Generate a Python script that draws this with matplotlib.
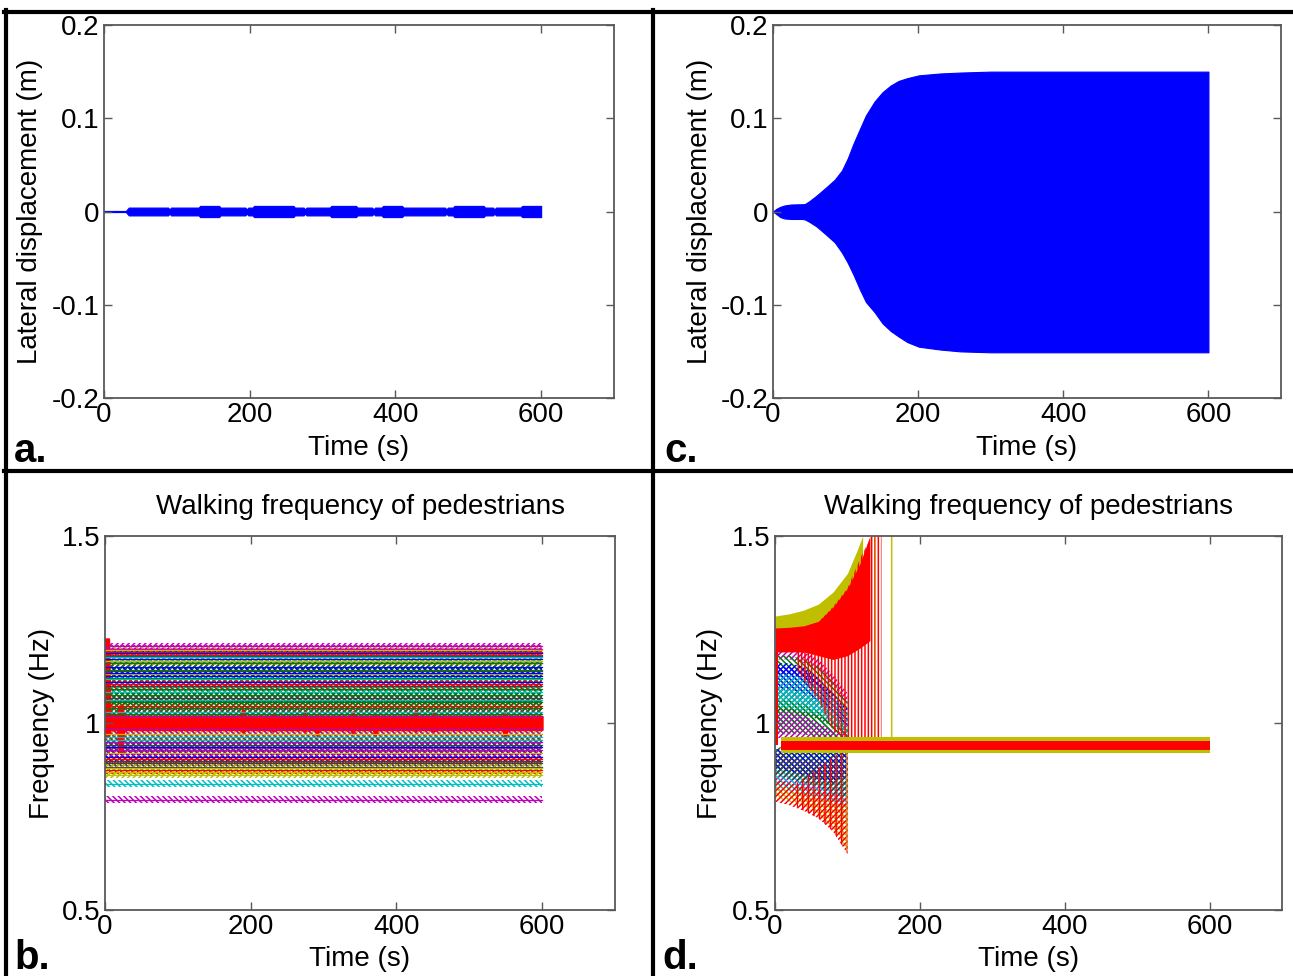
import matplotlib
matplotlib.use("Agg")
import matplotlib.pyplot as plt
from matplotlib.lines import Line2D

plt.rcParams["font.family"] = ["Liberation Sans", "DejaVu Sans"]
plt.rcParams["hatch.linewidth"] = 1.1

# MATLAB default line colour order: b, g, r, c, m, y, k
ml_colors = ["#0000ff", "#008000", "#ff0000", "#00bfbf", "#bf00bf", "#bfbf00", "#404040"]

# -------------------------------
# panel a: lateral displacement envelope (stable bridge)
# -------------------------------
a_time = [0, 30, 34, 88, 90, 92, 130, 132, 158, 160, 194, 196, 198, 204, 206, 260, 262,
          274, 276, 278, 310, 312, 346, 348, 368, 370, 372, 381, 383, 409, 411, 468, 470,
          472, 479, 481, 521, 523, 534, 536, 538, 572, 574, 600]
a_amp = [0.0006, 0.0006, 0.0042, 0.0042, 0.0022, 0.0042, 0.0042, 0.006, 0.006, 0.0042,
         0.0042, 0.0022, 0.0042, 0.0042, 0.006, 0.006, 0.0042, 0.0042, 0.0022, 0.0042,
         0.0042, 0.006, 0.006, 0.0042, 0.0042, 0.0022, 0.0042, 0.0042, 0.006, 0.006,
         0.0042, 0.0042, 0.0022, 0.0042, 0.0042, 0.006, 0.006, 0.0042, 0.0042, 0.0022,
         0.0042, 0.0042, 0.006, 0.006]

# -------------------------------
# panel c: lateral displacement envelope (lock-in)
# -------------------------------
c_time = [0, 5, 10, 16, 25, 40, 44, 50, 60, 72, 85, 95, 103, 111, 120, 128, 140, 151,
          162, 173, 185, 201, 230, 258, 300, 600]
c_upper = [0, 0.003, 0.005, 0.0065, 0.0075, 0.0078, 0.008, 0.011, 0.017, 0.025, 0.034,
           0.044, 0.057, 0.073, 0.089, 0.103, 0.118, 0.128, 0.135, 0.140, 0.143, 0.146,
           0.148, 0.149, 0.150, 0.150]
c_lower = [0, -0.003, -0.006, -0.0075, -0.008, -0.008, -0.0085, -0.011, -0.016, -0.024,
           -0.033, -0.044, -0.055, -0.068, -0.084, -0.097, -0.108, -0.120, -0.128,
           -0.134, -0.140, -0.145, -0.148, -0.150, -0.151, -0.151]

# -------------------------------
# panel b: pedestrian walking frequencies (base value and swing)
# -------------------------------
ped_freq = [1.150, 1.092, 1.190, 0.838, 1.205, 0.868, 0.893,
            1.170, 1.040, 0.874, 0.955, 0.795, 1.130, 0.899,
            1.110, 1.120, 1.182, 1.062, 1.160, 0.920, 1.178,
            0.935, 1.160, 0.980, 1.030, 1.198, 0.862, 1.140,
            1.125, 1.075, 1.046, 0.962, 0.948, 1.195, 1.100,
            0.910, 1.142, 1.188, 1.082, 1.015, 0.970, 0.882,
            1.186, 1.055, 0.903, 1.118, 0.928, 1.165, 1.068,
            1.135, 1.024, 1.105, 1.176, 0.985, 0.880, 0.942]
ped_amp = [0.012, 0.014, 0.010, 0.009, 0.010, 0.010, 0.012,
           0.011, 0.018, 0.011, 0.020, 0.010, 0.012, 0.013,
           0.013, 0.013, 0.010, 0.016, 0.011, 0.016, 0.010,
           0.018, 0.011, 0.022, 0.020, 0.010, 0.010, 0.012,
           0.013, 0.015, 0.018, 0.020, 0.020, 0.010, 0.014,
           0.015, 0.012, 0.010, 0.015, 0.022, 0.022, 0.012,
           0.010, 0.017, 0.014, 0.013, 0.017, 0.011, 0.016,
           0.012, 0.020, 0.014, 0.010, 0.022, 0.012, 0.019]
b_span = [0, 600]

# mean frequency (thick red) envelope
b_mean_t = [0, 5, 7, 17, 20, 23, 26, 30, 185, 189, 193, 228, 231, 234, 271, 274, 277,
            288, 291, 294, 337, 340, 343, 368, 371, 374, 423, 426, 429, 448, 451, 454,
            545, 549, 553, 600]
b_mean_hi = [1.225, 1.225, 1.02, 1.02, 1.046, 1.046, 1.02, 1.018, 1.018, 1.037, 1.018,
             1.018, 1.025, 1.018, 1.018, 1.028, 1.018, 1.018, 1.02, 1.018, 1.018, 1.03,
             1.018, 1.018, 1.02, 1.018, 1.018, 1.032, 1.018, 1.018, 1.028, 1.018, 1.018,
             1.025, 1.018, 1.018]
b_mean_lo = [0.965, 0.965, 0.982, 0.982, 0.921, 0.921, 0.982, 0.983, 0.983, 0.975,
             0.983, 0.983, 0.978, 0.983, 0.983, 0.978, 0.983, 0.983, 0.966, 0.983,
             0.983, 0.972, 0.983, 0.983, 0.966, 0.983, 0.983, 0.978, 0.983, 0.983,
             0.978, 0.983, 0.983, 0.964, 0.983, 0.983]

# -------------------------------
# panel d: walking frequencies with lock-in
# -------------------------------
d_yel_t = [0, 20, 40, 60, 80, 100, 113, 121]
d_yel_hi = [1.286, 1.292, 1.302, 1.318, 1.35, 1.40, 1.46, 1.50]
d_yel_lo = [1.245, 1.245, 1.245, 1.24, 1.25, 1.28, 1.32, 1.36]

d_red_t = [0, 20, 40, 60, 80, 100, 117, 131]
d_red_hi = [1.254, 1.256, 1.26, 1.272, 1.31, 1.36, 1.425, 1.5]
d_red_lo = [1.19, 1.19, 1.19, 1.18, 1.17, 1.18, 1.2, 1.22]

# red swing region growing over the others (upper and lower)
d_redw_t = [30, 60, 80, 100, 120, 147]
d_redw_lo = [1.14, 1.06, 0.98, 0.955, 0.955, 0.955]
d_redw_hi = [1.2, 1.27, 1.31, 1.36, 1.45, 1.55]
d_redl_t = [30, 60, 80, 100]
d_redl_lo = [0.775, 0.745, 0.71, 0.65]
d_redl_hi = [0.84, 0.88, 0.91, 0.93]

d_mid_t = [0, 20, 40, 60, 80, 100]
d_mid_color = [4, 1, 0, 3, 6, 1, 4, 0, 3]
d_mid_lo = [[1.17, 1.17, 1.16, 1.14, 1.10, 1.05],
            [1.12, 1.12, 1.11, 1.09, 1.06, 1.02],
            [1.07, 1.07, 1.06, 1.04, 1.01, 0.97],
            [1.00, 1.00, 0.99, 0.98, 0.97, 0.96],
            [1.03, 1.03, 1.02, 1.01, 0.99, 0.97],
            [0.97, 0.97, 0.97, 0.96, 0.96, 0.96],
            [0.96, 0.96, 0.96, 0.96, 0.96, 0.96],
            [1.09, 1.09, 1.08, 1.06, 1.03, 0.99],
            [1.04, 1.04, 1.03, 1.02, 1.00, 0.97]]
d_mid_hi = [[1.20, 1.20, 1.19, 1.17, 1.13, 1.08],
            [1.18, 1.18, 1.17, 1.15, 1.11, 1.06],
            [1.16, 1.16, 1.15, 1.12, 1.08, 1.04],
            [1.10, 1.10, 1.09, 1.07, 1.04, 1.00],
            [1.12, 1.12, 1.11, 1.09, 1.06, 1.02],
            [1.06, 1.06, 1.05, 1.03, 1.00, 0.98],
            [1.03, 1.03, 1.02, 1.00, 0.98, 0.97],
            [1.15, 1.15, 1.14, 1.11, 1.07, 1.02],
            [1.13, 1.13, 1.12, 1.10, 1.07, 1.03]]

d_low_t = [0, 20, 40, 60, 80, 100]
d_low_color = [4, 3, 1, 0, 6, 5, 2]
d_low_lo = [[0.84, 0.83, 0.82, 0.81, 0.79, 0.77],
            [0.82, 0.81, 0.80, 0.79, 0.77, 0.74],
            [0.87, 0.86, 0.85, 0.84, 0.83, 0.82],
            [0.88, 0.87, 0.86, 0.85, 0.84, 0.86],
            [0.86, 0.85, 0.84, 0.83, 0.81, 0.80],
            [0.80, 0.79, 0.78, 0.755, 0.72, 0.66],
            [0.79, 0.78, 0.765, 0.745, 0.71, 0.65]]
d_low_hi = [[0.93, 0.93, 0.93, 0.93, 0.93, 0.93],
            [0.90, 0.89, 0.88, 0.88, 0.87, 0.86],
            [0.935, 0.935, 0.935, 0.935, 0.935, 0.935],
            [0.93, 0.93, 0.93, 0.93, 0.93, 0.93],
            [0.92, 0.91, 0.90, 0.90, 0.89, 0.88],
            [0.83, 0.82, 0.81, 0.80, 0.79, 0.78],
            [0.85, 0.84, 0.83, 0.82, 0.81, 0.80]]

d_yelstroke_t = [138, 178]
d_yellow_dip_t = [98, 108]
d_stroke_lo = 0.955
d_stroke_hi = 1.55
d_dip_lo = 0.66

d_lock_t = [8, 600]
d_lock_yel = [0.919, 0.962]
d_lock_red = [0.927, 0.953]
d_mean_start_t = [0, 4]
d_mean_start = [0.94, 1.19]

# -------------------------------
# figure and layout
# -------------------------------
W, H = 1293, 976
fig = plt.figure(figsize=(W / 100, H / 100), dpi=100)


def px_axes(x0, y_top, x1, y_bot):
    return fig.add_axes([x0 / W, 1 - y_bot / H, (x1 - x0) / W, (y_bot - y_top) / H])


ax_a = px_axes(104, 25, 614, 398)
ax_c = px_axes(773, 25, 1281, 398)
ax_b = px_axes(105, 536, 615, 910)
ax_d = px_axes(775, 536, 1282, 910)

FS = 20
spine_col = "0.35"

for ax in (ax_a, ax_c, ax_b, ax_d):
    ax.set_xlim(0, 700)
    ax.set_xticks([0, 200, 400, 600])
    ax.tick_params(direction="in", length=6, width=1, color=spine_col,
                   top=True, right=True, labelsize=FS, pad=3)
    for s in ax.spines.values():
        s.set_color(spine_col)
        s.set_linewidth(1.3)
    ax.set_xlabel("Time (s)", fontsize=FS)

for ax in (ax_a, ax_c):
    ax.set_ylim(-0.2, 0.2)
    ax.set_yticks([-0.2, -0.1, 0, 0.1, 0.2])
    ax.set_yticklabels(["-0.2", "-0.1", "0", "0.1", "0.2"])
    ax.set_ylabel("Lateral displacement (m)", fontsize=FS)
    ax.xaxis.set_label_coords(0.5, -0.1)

for ax in (ax_b, ax_d):
    ax.set_ylim(0.5, 1.5)
    ax.set_yticks([0.5, 1, 1.5])
    ax.set_yticklabels(["0.5", "1", "1.5"])
    ax.set_ylabel("Frequency (Hz)", fontsize=FS)
    ax.set_title("Walking frequency of pedestrians", fontsize=FS, pad=16)
    ax.xaxis.set_label_coords(0.5, -0.095)

ax_a.yaxis.set_label_coords(-0.12, 0.5)
ax_c.yaxis.set_label_coords(-0.118, 0.5)
ax_b.yaxis.set_label_coords(-0.098, 0.5)
ax_d.yaxis.set_label_coords(-0.103, 0.5)

# panel a
a_neg = [-v for v in a_amp]
ax_a.fill_between(a_time, a_neg, a_amp, color="#0000ff", lw=0.8)

# panel c
ax_c.fill_between(c_time, c_lower, c_upper, color="#0000ff", lw=0.8)

# panel b
for i, (f, amp) in enumerate(zip(ped_freq, ped_amp)):
    col = ml_colors[i % 7]
    hatch = "//////" if i % 2 == 0 else "\\\\\\\\\\\\"
    ax_b.fill_between(b_span, [f - amp] * 2, [f + amp] * 2, facecolor="none",
                      edgecolor=col, hatch=hatch, lw=0)
    ax_b.plot(b_span, [f, f], color=col, lw=0.9)
ax_b.fill_between(b_mean_t, b_mean_lo, b_mean_hi, color="#ff0000", lw=1.5)

# panel d
for i, (ci, lo, hi) in enumerate(zip(d_low_color, d_low_lo, d_low_hi)):
    ax_d.fill_between(d_low_t, lo, hi, facecolor="none", edgecolor=ml_colors[ci],
                      hatch="//////" if i % 2 == 0 else "\\\\\\\\\\\\", lw=0)
ax_d.fill_between(d_redl_t, d_redl_lo, d_redl_hi, facecolor="none",
                  edgecolor="#ff0000", hatch="|||", lw=0)
ax_d.fill_between(d_yellow_dip_t, [d_dip_lo] * 2, [d_stroke_lo] * 2, facecolor="none",
                  edgecolor=ml_colors[5], hatch="||", lw=0)
for i, (ci, lo, hi) in enumerate(zip(d_mid_color, d_mid_lo, d_mid_hi)):
    ax_d.fill_between(d_mid_t, lo, hi, facecolor="none", edgecolor=ml_colors[ci],
                      hatch="//////" if i % 2 == 0 else "\\\\\\\\\\\\", lw=0)
ax_d.fill_between(d_yel_t, d_yel_lo, d_yel_hi, color=ml_colors[5], lw=0)
ax_d.fill_between(d_redw_t, d_redw_lo, d_redw_hi, facecolor="none",
                  edgecolor="#ff0000", hatch="|||||", lw=0)
ax_d.fill_between(d_red_t, d_red_lo, d_red_hi, color="#ff0000", lw=0)
ax_d.fill_between(d_yelstroke_t, [d_stroke_lo] * 2, [d_stroke_hi] * 2, facecolor="none",
                  edgecolor=ml_colors[5], hatch="|", lw=0)
ax_d.fill_between(d_lock_t, [d_lock_yel[0]] * 2, [d_lock_yel[1]] * 2, color=ml_colors[5], lw=0)
ax_d.fill_between(d_lock_t, [d_lock_red[0]] * 2, [d_lock_red[1]] * 2, color="#ff0000", lw=0)
ax_d.fill_between(d_mean_start_t, [d_mean_start[0]] * 2, [d_mean_start[1]] * 2,
                  color="#ff0000", lw=0)

# panel letters
for txt, x, y in [("a.", 14, 462), ("c.", 664, 462), ("b.", 14, 969), ("d.", 662, 969)]:
    fig.text(x / W, 1 - y / H, txt, fontsize=29, fontweight="bold", va="baseline")

# thick panel borders
lw_border = 3.0
fig.add_artist(Line2D([4 / W, 1], [1 - 11.5 / H] * 2, color="black", lw=lw_border))
fig.add_artist(Line2D([5.5 / W] * 2, [0, 1 - 10 / H], color="black", lw=lw_border))
fig.add_artist(Line2D([652.5 / W] * 2, [0, 1 - 10 / H], color="black", lw=lw_border))
fig.add_artist(Line2D([4 / W, 1], [1 - 471 / H] * 2, color="black", lw=lw_border))

fig.savefig("out.png", dpi=100)
